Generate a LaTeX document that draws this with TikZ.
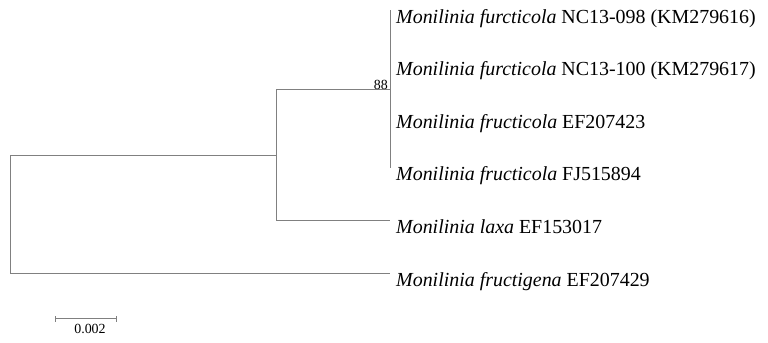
\documentclass[tikz,border=0pt]{standalone}
\usepackage{fontspec}
\setmainfont{Liberation Serif}
\begin{document}
\begin{tikzpicture}[x=1bp,y=-1bp,
  branch/.style={draw=black!50, line width=1bp},
  leaf/.style={anchor=base west, inner sep=0pt, font=\fontsize{20}{22}\selectfont},
  small/.style={inner sep=0pt, font=\fontsize{14}{16}\selectfont}]
\useasboundingbox (0,0) rectangle (768,342);
% leaf coordinates
\coordinate (l1) at (390,10);
\coordinate (l2) at (390,62.5);
\coordinate (l3) at (390,115);
\coordinate (l4) at (390,167.5);
\coordinate (l5) at (390,220.5);
\coordinate (l6) at (390,273);
\coordinate (c1) at (390,89);
\coordinate (n1) at (276,89);
\coordinate (n1b) at (276,220.5);
\coordinate (n1m) at (276,155);
\coordinate (r1) at (10,155);
\coordinate (r2) at (10,273);
\draw[branch] (l1) -- (l4);
\draw[branch] (c1) -- (n1) -- (n1b) -- (l5);
\draw[branch] (n1m) -- (r1) -- (r2) -- (l6);
\node[small, anchor=base east] (bs) at (388,89.5) {88};
\node[leaf] (t1) at (396,23) {\textit{Monilinia furcticola} NC13-098 (KM279616)};
\node[leaf] (t2) at (396,75.5) {\textit{Monilinia furcticola} NC13-100 (KM279617)};
\node[leaf] (t3) at (396,128) {\textit{Monilinia fructicola} EF207423};
\node[leaf] (t4) at (396,180.5) {\textit{Monilinia fructicola} FJ515894};
\node[leaf] (t5) at (396,233.5) {\textit{Monilinia laxa} EF153017};
\node[leaf] (t6) at (396,286) {\textit{Monilinia fructigena} EF207429};
% scale bar
\coordinate (s1) at (55.5,318.5);
\coordinate (s2) at (116.5,318.5);
\draw[branch] (s1) -- (s2);
\draw[branch] ([yshift=-3bp]s1) -- ([yshift=3bp]s1);
\draw[branch] ([yshift=-3bp]s2) -- ([yshift=3bp]s2);
\node[small, anchor=base] (sl) at (90,333.5) {0.002};
\end{tikzpicture}
\end{document}
